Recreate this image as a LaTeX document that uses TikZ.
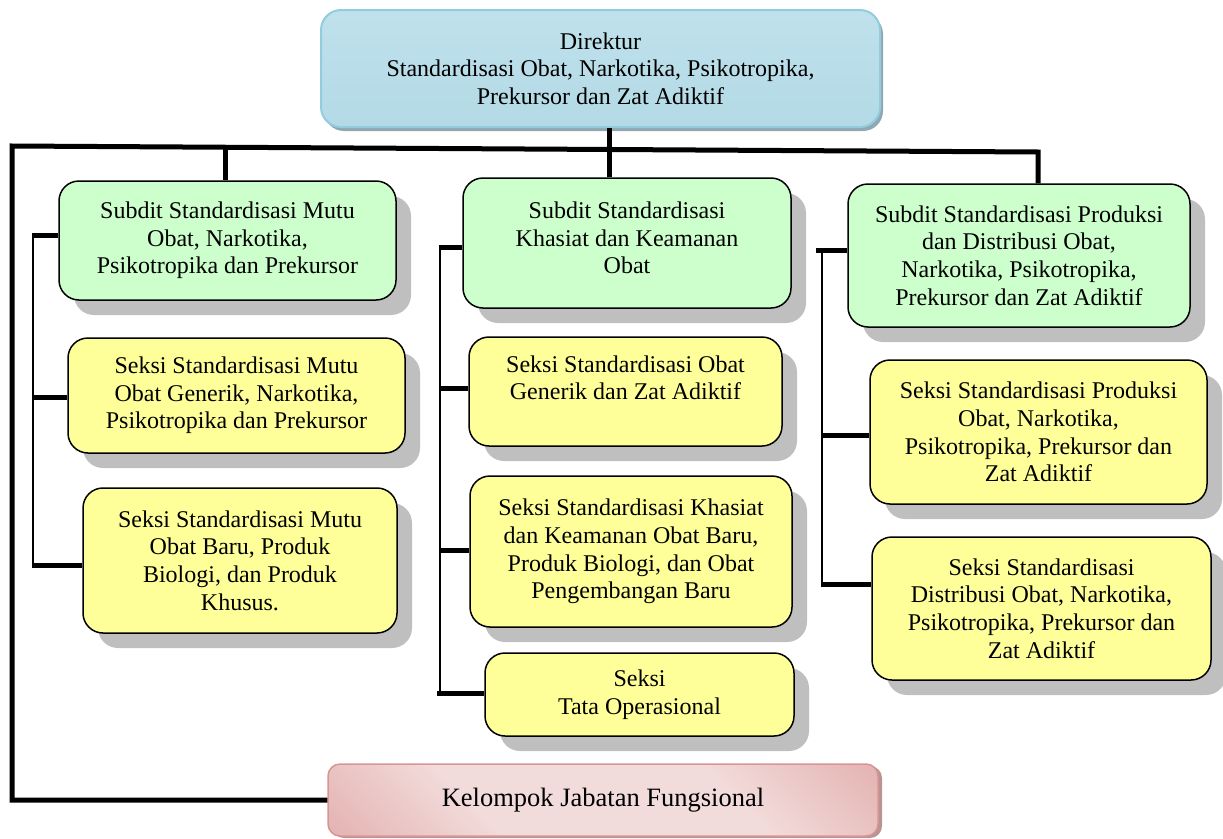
\documentclass[tikz,border=0pt]{standalone}
\usepackage{fontspec}
\setmainfont{Liberation Serif}
\usetikzlibrary{shadows}
\definecolor{boxgreen}{HTML}{CCFFCC}
\definecolor{boxyellow}{HTML}{FFFF99}
\definecolor{shadowgray}{HTML}{BFBFBF}
\definecolor{dirfill}{HTML}{B3DAE6}
\definecolor{dirlight}{HTML}{BFE1EC}
\definecolor{dirborder}{HTML}{93CDDD}
\definecolor{dirshadow}{HTML}{8FA9B2}
\definecolor{keldark}{HTML}{D99594}
\definecolor{kellight}{HTML}{F2DCDB}
\definecolor{kelshadow}{HTML}{B89494}
\pgfdeclarehorizontalshading{kelshade}{100bp}{color(0bp)=(keldark); color(35bp)=(kellight); color(65bp)=(kellight); color(100bp)=(keldark)}
\begin{document}
\begin{tikzpicture}[x=1pt,y=-1pt,
  box/.style={draw=black, line width=1.5pt, rounded corners=20pt, align=center,
    font=\fontsize{24}{27.6}\selectfont, inner sep=0pt,
    drop shadow={shadow xshift=15pt, shadow yshift=-15pt, fill=shadowgray, opacity=1}},
  subdit/.style={box, fill=boxgreen},
  seksi/.style={box, fill=boxyellow},
  dirbox/.style={draw=dirborder, line width=2pt, rounded corners=20pt, align=center,
    font=\fontsize{24}{27.6}\selectfont, inner sep=0pt,
    top color=dirlight, bottom color=dirfill,
    drop shadow={shadow xshift=3pt, shadow yshift=-4pt, fill=dirshadow, opacity=1}},
  kelbox/.style={draw=keldark, line width=1.5pt, rounded corners=12pt, align=center,
    font=\fontsize{26.5}{30}\selectfont, inner sep=0pt,
    shading=kelshade, shading angle=45,
    drop shadow={shadow xshift=4pt, shadow yshift=-2pt, fill=kelshadow, opacity=1}},
  stub/.style={line width=5pt},
  spine/.style={line width=2pt},
  bus/.style={line width=5pt, line join=miter}]
\useasboundingbox (0,0) rectangle (1223,838);

% nodes
\node[dirbox, minimum width=559pt, minimum height=117pt] (dir) at (600.5,68.5)
  {Direktur\\Standardisasi Obat, Narkotika, Psikotropika,\\Prekursor dan Zat Adiktif};

\node[subdit, minimum width=337pt, minimum height=119pt] (g1) at (227.5,240.5)
  {Subdit Standardisasi Mutu\\Obat, Narkotika,\\Psikotropika dan Prekursor};
\node[subdit, minimum width=328pt, minimum height=130pt] (g2) at (627,243)
  {Subdit Standardisasi\\Khasiat dan Keamanan\\Obat\\[-17pt]\mbox{}};
\node[subdit, minimum width=342pt, minimum height=143pt] (g3) at (1019,255.5)
  {Subdit Standardisasi Produksi\\dan Distribusi Obat,\\Narkotika, Psikotropika,\\Prekursor dan Zat Adiktif};

\node[seksi, minimum width=337pt, minimum height=115pt] (s1) at (236.5,395.5)
  {Seksi Standardisasi Mutu\\Obat Generik, Narkotika,\\Psikotropika dan Prekursor};
\node[seksi, minimum width=314pt, minimum height=145pt] (s2) at (240,560.5)
  {Seksi Standardisasi Mutu\\Obat Baru, Produk\\Biologi, dan Produk\\Khusus.};

\node[seksi, minimum width=313pt, minimum height=109pt] (s3) at (625.5,391.5)
  {Seksi Standardisasi Obat\\Generik dan Zat Adiktif\\\mbox{}};
\node[seksi, minimum width=322pt, minimum height=151pt] (s4) at (631,551.5)
  {Seksi Standardisasi Khasiat\\dan Keamanan Obat Baru,\\Produk Biologi, dan Obat\\Pengembangan Baru};
\node[seksi, minimum width=309pt, minimum height=83pt] (s5) at (639.5,694.5)
  {Seksi\\Tata Operasional};

\node[seksi, minimum width=337pt, minimum height=144pt] (s6) at (1038.5,432)
  {Seksi Standardisasi Produksi\\Obat, Narkotika,\\Psikotropika, Prekursor dan\\Zat Adiktif};
\node[seksi, minimum width=339pt, minimum height=143pt] (s7) at (1041.5,608.5)
  {Seksi Standardisasi\\Distribusi Obat, Narkotika,\\Psikotropika, Prekursor dan\\Zat Adiktif};

\node[kelbox, minimum width=550pt, minimum height=72pt] (kel) at (603,800)
  {Kelompok Jabatan Fungsional};

% main bus
\coordinate (busL) at (12,146);
\coordinate (busR) at (1038,152);
\draw[bus] (busR |- g3.north) -- (busR) -- (busL) -- (busL |- kel.west) -- (kel.west);

% drops to subdits
\coordinate (b1) at (225,147);
\draw[stub] (b1) -- (b1 |- g1.north);
\coordinate (b2) at (609,128);
\draw[stub] (b2) -- (b2 |- g2.north);

% column 1
\coordinate (c1t) at (33,235);
\coordinate (c1m) at (33,397);
\coordinate (c1b) at (33,565);
\draw[spine] (c1t) -- (c1b);
\draw[stub] ([xshift=-1pt]c1t) -- (c1t -| g1.west);
\draw[stub] ([xshift=-1pt]c1m) -- (c1m -| s1.west);
\draw[stub] ([xshift=-1pt]c1b) -- (c1b -| s2.west);

% column 2
\coordinate (c2t) at (440,247);
\coordinate (c2a) at (440,388);
\coordinate (c2b) at (440,550);
\coordinate (c2c) at (440,693);
\draw[spine] (c2t) -- (c2c);
\draw[stub] ([xshift=-1pt]c2t) -- (c2t -| g2.west);
\draw[stub] ([xshift=-1pt]c2a) -- (c2a -| s3.west);
\draw[stub] ([xshift=-1pt]c2b) -- (c2b -| s4.west);
\draw[stub] ([xshift=-3pt]c2c) -- (c2c -| s5.west);

% column 3
\coordinate (c3t) at (822,250);
\coordinate (c3a) at (822,435);
\coordinate (c3b) at (822,584);
\draw[spine] (c3t) -- (c3b);
\draw[stub] ([xshift=-6pt]c3t) -- (c3t -| g3.west);
\draw[stub] ([xshift=-1pt]c3a) -- (c3a -| s6.west);
\draw[stub] ([xshift=-1pt]c3b) -- (c3b -| s7.west);
\end{tikzpicture}
\end{document}
